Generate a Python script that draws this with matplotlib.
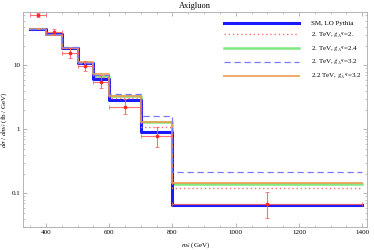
import numpy as np
import matplotlib
matplotlib.use("Agg")
import matplotlib.pyplot as plt
from matplotlib.ticker import MultipleLocator, LogLocator, FixedLocator, NullFormatter

# bin edges (GeV)
edges = [350, 400, 450, 500, 550, 600, 700, 800, 1400]

sm      = [36.5, 30.8, 18.5, 10.7, 6.17, 2.84, 0.92, 0.065]
g20     = [36.5, 30.5, 18.8, 10.9, 6.5, 3.05, 1.10, 0.124]
g24     = [36.5, 30.5, 18.9, 11.0, 6.7, 3.28, 1.31, 0.143]
g32     = [36.5, 30.5, 19.5, 11.0, 7.1, 3.60, 1.61, 0.213]
g32_22  = [36.8, 29.6, 18.6, 11.3, 7.3, 3.28, 1.31, 0.145]

# data points
dx   = [375, 425, 475, 525, 575, 650, 750, 1100]
dxlo = [25, 25, 25, 25, 25, 50, 50, 300]
dxhi = [25, 25, 25, 25, 25, 50, 50, 300]
dy   = [61.6, 33.2, 15.7, 9.86, 5.5, 2.25, 0.79, 0.068]
dyhi = [66.5, 36.5, 18.6, 11.7, 7.0, 2.96, 1.08, 0.106]
dylo = [57.0, 30.0, 13.0, 8.2, 4.4, 1.73, 0.54, 0.042]

plt.rcParams['font.family'] = ['Liberation Serif', 'DejaVu Serif']
plt.rcParams['mathtext.fontset'] = 'stix'

fig = plt.figure(figsize=(3.74, 2.5), dpi=100)
ax = fig.add_axes([0.062, 0.092, 0.92, 0.86])

def step(vals, **kw):
    ys = list(vals) + [vals[-1]]
    return ax.step(edges, ys, where='post', **kw)

# data error bars
err_lo = np.array(dy) - np.array(dylo)
err_hi = np.array(dyhi) - np.array(dy)
ax.errorbar(dx, dy, xerr=[dxlo, dxhi], yerr=[err_lo, err_hi], fmt='s',
            ms=1.8, color='#ff2020', ecolor='#ff6060', elinewidth=0.8,
            capsize=1.2, capthick=0.6, zorder=6, alpha=0.9)

step(sm, color='#1a1aff', lw=2.2, zorder=3, label='SM, LO Pythia')
step(g20, color='#ff7070', lw=1.0, ls=(0, (1, 2)), zorder=4,
     label='2. TeV, $g_A{}^q$=2.')
step(g24, color='#80e880', lw=1.8, zorder=2, label='2. TeV, $g_A{}^q$=2.4')
step(g32, color='#7878ff', lw=0.9, ls=(0, (5, 3)), zorder=4,
     label='2. TeV, $g_A{}^q$=3.2')
step(g32_22, color='#e8a050', lw=1.3, zorder=3, alpha=0.95,
     label='2.2 TeV, $g_A{}^q$=3.2')

ax.set_yscale('log')
ax.set_xlim(328, 1416)
ax.set_ylim(0.03, 68)

ax.xaxis.set_major_locator(FixedLocator([400, 600, 800, 1000, 1200, 1400]))
ax.xaxis.set_minor_locator(MultipleLocator(50))
ax.yaxis.set_major_locator(FixedLocator([0.1, 1, 10]))
ax.set_yticklabels(['0.1', '1', '10'])
ax.yaxis.set_minor_locator(LogLocator(base=10, subs=np.arange(2, 10)))
ax.yaxis.set_minor_formatter(NullFormatter())

ax.tick_params(which='both', direction='in', top=True, right=True,
               labelsize=5, color='#999999', pad=2)
ax.tick_params(which='major', length=3, width=0.5)
ax.tick_params(which='minor', length=1.6, width=0.4)
for s in ax.spines.values():
    s.set_color('#aaaaaa')
    s.set_linewidth(0.6)

ax.set_title('Axigluon', fontsize=6, pad=3)
ax.set_xlabel(r'$m_{t\bar{t}}$ (GeV)', fontsize=5, labelpad=4)
ax.set_ylabel(r'$d\sigma$ / $dm_{t\bar{t}}$ (fb / GeV)', fontsize=5, labelpad=2)

leg = ax.legend(loc='upper right', bbox_to_anchor=(0.998, 0.985), fontsize=5,
                frameon=False, handlelength=10.8, handletextpad=1.8,
                labelspacing=0.62, borderaxespad=0.3)

fig.savefig('out.png', dpi=100)
